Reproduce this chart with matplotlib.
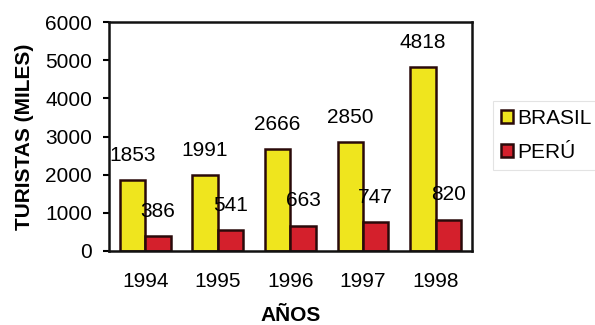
import matplotlib.pyplot as plt
import numpy as np

YEARS = ["1994", "1995", "1996", "1997", "1998"]
BRASIL = [1853, 1991, 2666, 2850, 4818]
PERU = [386, 541, 663, 747, 820]

YELLOW = "#EFE51E"
RED = "#D4202C"
EDGE = "#2a0a0a"
FS = 15


def main():
    plt.rcParams["font.family"] = ["Liberation Sans", "DejaVu Sans"]

    fig = plt.figure(figsize=(5.95, 3.25), dpi=100)
    ax = fig.add_axes([0.183, 0.228, 0.61, 0.704])

    x = np.arange(len(YEARS))
    w = 0.35
    b1 = ax.bar(x - w / 2, BRASIL, w, color=YELLOW, edgecolor=EDGE,
                linewidth=1.8, label="BRASIL")
    b2 = ax.bar(x + w / 2, PERU, w, color=RED, edgecolor=EDGE,
                linewidth=1.8, label="PERÚ")

    for bars in (b1, b2):
        for bar in bars:
            ax.annotate(str(int(bar.get_height())),
                        (bar.get_x() + bar.get_width() / 2, bar.get_height()),
                        xytext=(0, 11), textcoords="offset points",
                        ha="center", va="bottom", fontsize=FS)

    ax.set_xlim(-0.5, 4.5)
    ax.set_ylim(0, 6000)
    ax.set_yticks(range(0, 6001, 1000))
    ax.set_xticks(x)
    ax.set_xticklabels(YEARS)
    ax.tick_params(axis="x", length=0, pad=15, labelsize=FS)
    ax.tick_params(axis="y", length=4, width=1.5, pad=8, labelsize=FS)
    for s in ax.spines.values():
        s.set_linewidth(1.8)
        s.set_color("#111111")

    ax.set_ylabel("TURISTAS (MILES)", fontsize=FS, fontweight="bold", labelpad=8)
    ax.set_xlabel("AÑOS", fontsize=FS, fontweight="bold", labelpad=11)

    leg = fig.legend(loc="upper left", bbox_to_anchor=(0.828, 0.69),
                     fontsize=FS, frameon=True, fancybox=False,
                     handlelength=0.6, handleheight=0.6, handletextpad=0.2,
                     borderpad=0.4, labelspacing=0.7, borderaxespad=0)
    leg.get_frame().set_edgecolor("#dddddd")
    leg.get_frame().set_linewidth(0.8)

    fig.savefig("out.png", dpi=100)


if __name__ == "__main__":
    main()
